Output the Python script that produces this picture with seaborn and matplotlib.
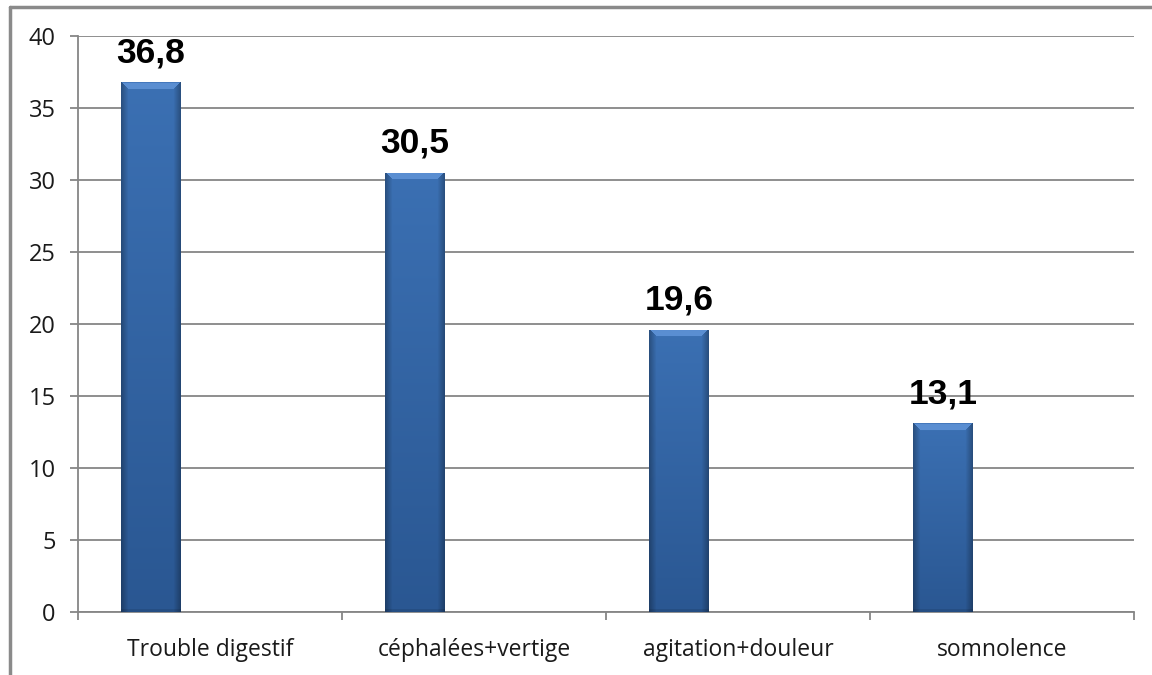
import numpy as np
import pandas as pd
import matplotlib
matplotlib.use("Agg")
import matplotlib.pyplot as plt
import seaborn as sns
from matplotlib.lines import Line2D
from matplotlib import patheffects as pe

categories = ["Trouble digestif", "céphalées+vertige", "agitation+douleur", "somnolence"]
values = [36.8, 30.5, 19.6, 13.1]
value_labels = ["36,8", "30,5", "19,6", "13,1"]
y_ticks = [0, 5, 10, 15, 20, 25, 30, 35, 40]

sns.set_theme(style="white")
plt.rcParams['font.family'] = ['Open Sans', 'DejaVu Sans']

W, H = 1152, 675
fig = plt.figure(figsize=(W / 100, H / 100), dpi=100)
fig.patch.set_facecolor("white")
ax = fig.add_axes([78 / W, 1 - 612 / H, (1134 - 78) / W, (612 - 36) / H])

df = pd.DataFrame({"cat": categories, "val": values, "series": ["s1"] * len(values)})
sns.barplot(data=df, x="cat", y="val", hue="series", hue_order=["s1", "s2", "s3"],
            order=categories, width=0.672, dodge=True,
            palette=["#3A6DB0", "#3A6DB0", "#3A6DB0"], saturation=1,
            legend=False, errorbar=None, ax=ax, zorder=3)

ax.set_ylim(0, 40)
ax.set_xlim(-0.5, len(categories) - 0.5)
ax.set_xlabel("")
ax.set_ylabel("")

grid_c = "#868686"
ax.set_yticks(y_ticks)
ax.yaxis.grid(True, color=grid_c, linewidth=1.3, zorder=0)
ax.set_axisbelow(True)
for s in ["top", "right"]:
    ax.spines[s].set_visible(False)
for s in ["left", "bottom"]:
    ax.spines[s].set_color(grid_c)
    ax.spines[s].set_linewidth(1.3)

ax.tick_params(axis="y", which="major", length=6, width=1.3, color=grid_c,
               labelsize=17, labelcolor="#1a1a1a", pad=10, left=True)
ax.set_xticks(range(len(categories)))
ax.set_xticklabels(categories)
ax.set_xticks(np.arange(-0.5, len(categories), 1.0), minor=True)
ax.tick_params(axis="x", which="major", length=0, labelsize=16.5, labelcolor="#1a1a1a", pad=19)
ax.tick_params(axis="x", which="minor", length=6, width=1.3, color=grid_c, bottom=True)

# gradient fill for bars
bars = [p for p in ax.patches if p.get_height() > 0]
for p, lab in zip(bars, value_labels):
    x0, w, h = p.get_x(), p.get_width(), p.get_height()
    p.set_edgecolor("none")
    p.set_path_effects([pe.SimplePatchShadow(offset=(0, -1), shadow_rgbFace="#999999", alpha=0.35),
                        pe.Normal()])
    nr = max(int(h * 14.4), 2)
    nc = 60
    yy = np.linspace(1, 0, nr)[:, None]  # 1 at top
    xx = np.linspace(0, 1, nc)[None, :]
    top = np.array([0x3B, 0x70, 0xB3]) / 255
    bot = np.array([0x2A, 0x57, 0x92]) / 255
    base = bot + (top - bot) * yy[..., None]
    edge = np.minimum(xx, 1 - xx)
    hf = 0.72 + 0.28 * np.clip(edge / 0.12, 0, 1)
    img = base * hf[..., None]
    # top bevel
    bev = 7
    for r in range(min(bev, nr)):
        inset = r / bev * 0.12
        mask = (xx[0] > inset) & (xx[0] < 1 - inset)
        light = np.array([0x5A, 0x8E, 0xD2]) / 255 if r > 0 else np.array([0x44, 0x78, 0xBC]) / 255
        img[r, mask] = light
    img[nr - 3:, :] *= 0.9
    im = ax.imshow(np.clip(img, 0, 1), extent=[x0, x0 + w, 0, h], aspect="auto",
                   zorder=4, interpolation="bilinear")
    im.set_clip_path(p)
    ax.annotate(lab, (x0 + w / 2, h), xytext=(0, 14.4), textcoords="offset points",
                ha="center", va="baseline", fontsize=25.5, fontweight="bold",
                family=["Liberation Sans", "DejaVu Sans"], color="black", zorder=6)

ax.set_xlim(-0.5, len(categories) - 0.5)
ax.set_ylim(0, 40)

# outer frame (top and left visible)
fc = "#8a8a8a"
fig.add_artist(Line2D([9.5 / W, 1], [1 - 6.5 / H, 1 - 6.5 / H], transform=fig.transFigure,
                      color=fc, linewidth=2.5))
fig.add_artist(Line2D([9.5 / W, 9.5 / W], [0, 1 - 6.5 / H], transform=fig.transFigure,
                      color=fc, linewidth=2.5))

fig.savefig("out.png", dpi=100)
